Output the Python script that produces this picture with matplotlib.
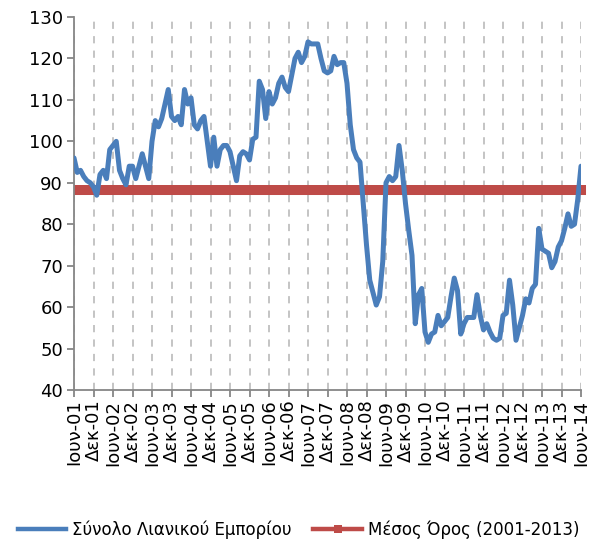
import matplotlib
matplotlib.use("Agg")
import matplotlib.pyplot as plt
from matplotlib.lines import Line2D
from matplotlib.transforms import Bbox, TransformedBbox
import numpy as np

plt.rcParams["font.family"] = ["DejaVu Sans"]

# monthly index, Jun-01 .. Jun-14
retail = [
    96, 92.5, 93, 91.5, 90.5, 90, 89, 87, 92, 93,
    91, 98, 99, 100, 93, 91, 89.5, 94, 94, 91,
    94, 97, 94, 91, 100, 105, 103.5, 105.5, 109, 112.5,
    106, 105, 106, 104, 112.5, 109, 110.5, 104, 103, 105,
    106, 100, 94, 101, 94, 98, 99, 99, 97.5, 94,
    90.5, 96.5, 97.5, 97, 95.5, 100.5, 101, 114.5, 112.5, 105.5,
    112, 109, 110.5, 114, 115.5, 113, 112, 116, 120, 121.5,
    119, 120.5, 124, 123.5, 123.5, 123.5, 120, 117, 116.5, 117,
    120.5, 118.5, 119, 119, 114, 104, 98, 96, 95, 85,
    75, 66.5, 63.5, 60.5, 62.5, 71, 90, 91.5, 90.5, 91.5,
    99, 93, 85, 78.5, 72.5, 56, 63, 64.5, 54, 51.5,
    53.5, 54, 58, 55.5, 56.5, 57.5, 62.5, 67, 64, 53.5,
    56, 57.5, 57.5, 57.5, 63, 58, 54.5, 56, 54, 52.5,
    52, 52.5, 58, 58.5, 66.5, 60.5, 52, 55, 58, 62,
    61, 64.5, 65.5, 79, 74, 73.5, 73, 69.5, 71, 74.5,
    76, 79, 82.5, 79.5, 80, 86, 94,
]
mean_value = 88.3

tick_labels = []
for yr in range(1, 15):
    tick_labels.append("Ιουν-%02d" % yr)
    if yr < 14:
        tick_labels.append("Δεκ-%02d" % yr)

series_name = "Σύνολο Λιανικού Εμπορίου"
mean_name = "Μέσος Όρος (2001-2013)"

blue = "#4a7ebb"
red = "#be4b48"

x = np.arange(len(retail))
tick_pos = np.arange(0, len(retail), 6)

fig = plt.figure(figsize=(5.97, 5.47), dpi=100)
ax = fig.add_axes([74 / 597, 1 - 390 / 547, (581 - 74) / 597, (390 - 17) / 547])

for p in tick_pos:
    ax.axvline(p, color="#bfbfbf", lw=1.3, linestyle=(0, (4, 4)), zorder=0)

ax.plot(x, retail, color=blue, lw=3.6, solid_joinstyle="round",
        solid_capstyle="round", zorder=3)
avg_line, = ax.plot(x, [mean_value] * len(x), color=red, lw=6.5, marker="s",
                    markersize=6.5, markeredgewidth=0, zorder=2)
# let the markers run past the right end but not the left axis
avg_line.set_clip_path(None)
avg_line.set_clip_box(TransformedBbox(Bbox([[0, 0], [1.03, 1]]), ax.transAxes))

ax.set_xlim(0, len(retail) - 1)
ax.set_ylim(40, 130)
ax.set_yticks(np.arange(40, 131, 10))
ax.set_xticks(tick_pos)
ax.set_xticklabels(tick_labels, rotation=90, ha="center", va="top")

for s in ["top", "right"]:
    ax.spines[s].set_visible(False)
for s in ["left", "bottom"]:
    ax.spines[s].set_color("#868686")
    ax.spines[s].set_linewidth(1.3)
ax.tick_params(axis="both", colors="#868686", width=1.3, length=5,
               labelcolor="black", labelsize=13)
ax.tick_params(axis="x", pad=2)
ax.tick_params(axis="y", pad=3)

handles = [
    Line2D([], [], color=blue, lw=3.2),
    Line2D([], [], color=red, lw=3.2, marker="s", markersize=5.5,
           markeredgewidth=0),
]
fig.legend(handles, [series_name, mean_name], loc="center",
           bbox_to_anchor=(0.5, 1 - 530 / 547), ncol=2, frameon=False,
           fontsize=12, handlelength=2.9, columnspacing=1.3,
           handletextpad=0.35)

fig.savefig("out.png", dpi=100)
